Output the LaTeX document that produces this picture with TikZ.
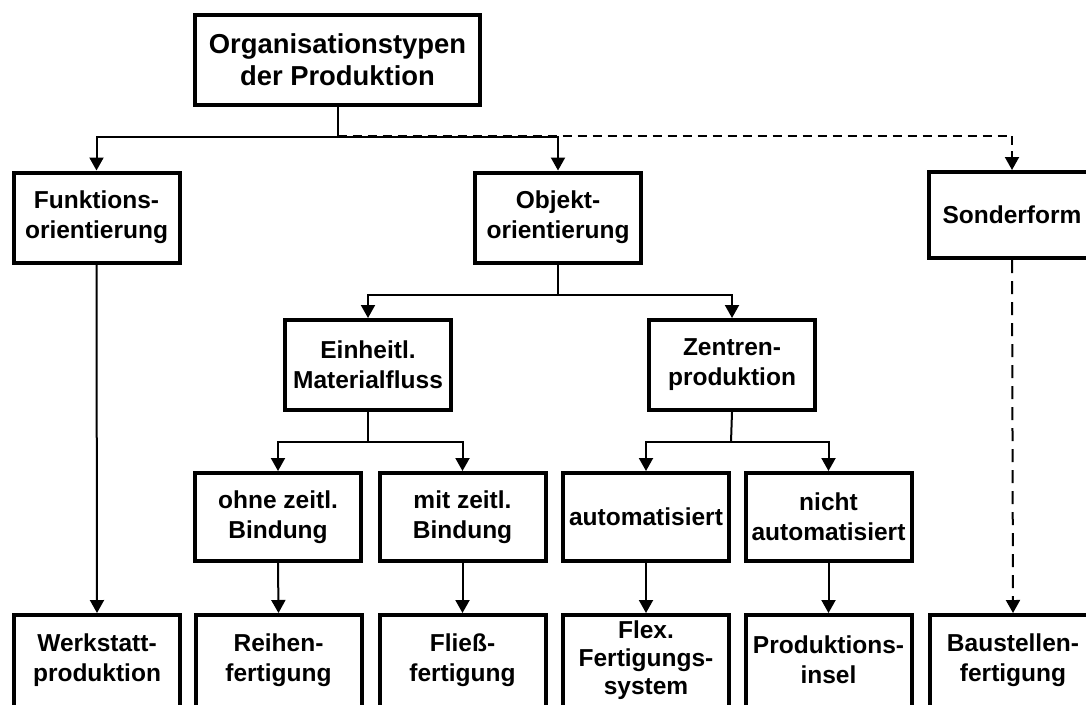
\documentclass[tikz,border=0pt]{standalone}
\usepackage{fontspec}
\setmainfont{Liberation Sans}
\usetikzlibrary{arrows.meta}
\tikzset{
  box/.style={draw, line width=4pt, minimum width=166pt, minimum height=90pt, inner sep=0pt,
    align=center, font=\fontsize{24.5}{30}\selectfont\bfseries},
  cutbox/.style={box, draw=none},
  frame/.style={line width=4pt},
  conn/.style={line width=2pt, -{Triangle[width=14pt,length=13pt]}},
  plain/.style={line width=2pt},
  dconn/.style={conn, dash pattern=on 9pt off 6pt},
  vdconn/.style={conn, dash pattern=on 13pt off 8pt},
}
\begin{document}
\begin{tikzpicture}[x=1pt,y=-1pt]
\useasboundingbox (0,0) rectangle (1086,704);
\clip (0,0) rectangle (1086,704);
% nodes
\node[box, minimum width=285pt, font=\fontsize{27.4}{32}\selectfont\bfseries] (top) at (337.5,59.5) {Organisationstypen\\der Produktion};
\node[box] (funk) at (96.5,217.5) {Funktions-\\orientierung};
\node[box] (obj) at (558,217.5) {Objekt-\\orientierung};
\node[box, minimum height=86pt] (sonder) at (1012,215) {Sonderform};
\node[box] (ein) at (368,365) {Einheitl.\\Materialfluss};
\node[box] (zen) at (732,365) {Zentren-\\produktion};
\node[box, minimum height=88pt] (ohne) at (278,517) {ohne zeitl.\\Bindung};
\node[box, minimum height=88pt] (mit) at (462.5,517) {mit zeitl.\\Bindung};
\node[box, minimum height=88pt] (auto) at (646,517) {automatisiert};
\node[box, minimum height=88pt] (nicht) at (828.5,517) {nicht\\automatisiert};
\node[cutbox] (werk) at (97,660) {Werkstatt-\\produktion};
\node[cutbox] (reihen) at (278.5,660) {Reihen-\\fertigung};
\node[cutbox] (fliess) at (462.5,660) {Flie\ss-\\fertigung};
\node[cutbox, font=\fontsize{24.5}{28}\selectfont\bfseries] (flex) at (646,660) {Flex.\\Fertigungs-\\system};
\node[cutbox] (prod) at (828.5,660) {Produktions-\\insel};
\node[cutbox] (baust) at (1013,660) {Baustellen-\\fertigung};
% frames of the cut-off bottom boxes
\foreach \n in {werk,reihen,fliess,flex,prod,baust}
  \draw[frame] ([xshift=2pt,yshift=-2pt]\n.north west) rectangle ([xshift=-2pt,yshift=-30pt]\n.south east);
% junctions
\coordinate (j1) at (337.5,137);
\coordinate (j1d) at (337.5,135.5);
\coordinate (j2) at (558,295);
\coordinate (j3) at (368,442);
\coordinate (j4) at (731,442);
% connectors
\draw[dconn] (j1d) -| (sonder.north);
\draw[plain] (top.south) -- (j1);
\draw[conn] (j1) -| (funk.north);
\draw[conn] (j1) -| (obj.north);
\draw[plain] (obj.south) -- (j2);
\draw[conn] (j2) -| (ein.north);
\draw[conn] (j2) -| (zen.north);
\draw[plain] (ein.south) -- (j3);
\draw[conn] (j3) -| (ohne.north);
\draw[conn] (j3) -| (mit.north);
\draw[plain] (zen.south) -- (j4);
\draw[conn] (j4) -| (auto.north);
\draw[conn] (j4) -| (nicht.north);
\draw[conn] (funk.south) -- (werk.north);
\draw[conn] (ohne.south) -- (reihen.north);
\draw[conn] (mit.south) -- (fliess.north);
\draw[conn] (auto.south) -- (flex.north);
\draw[conn] (nicht.south) -- (prod.north);
\draw[vdconn] (sonder.south) -- (baust.north);
\end{tikzpicture}
\end{document}
